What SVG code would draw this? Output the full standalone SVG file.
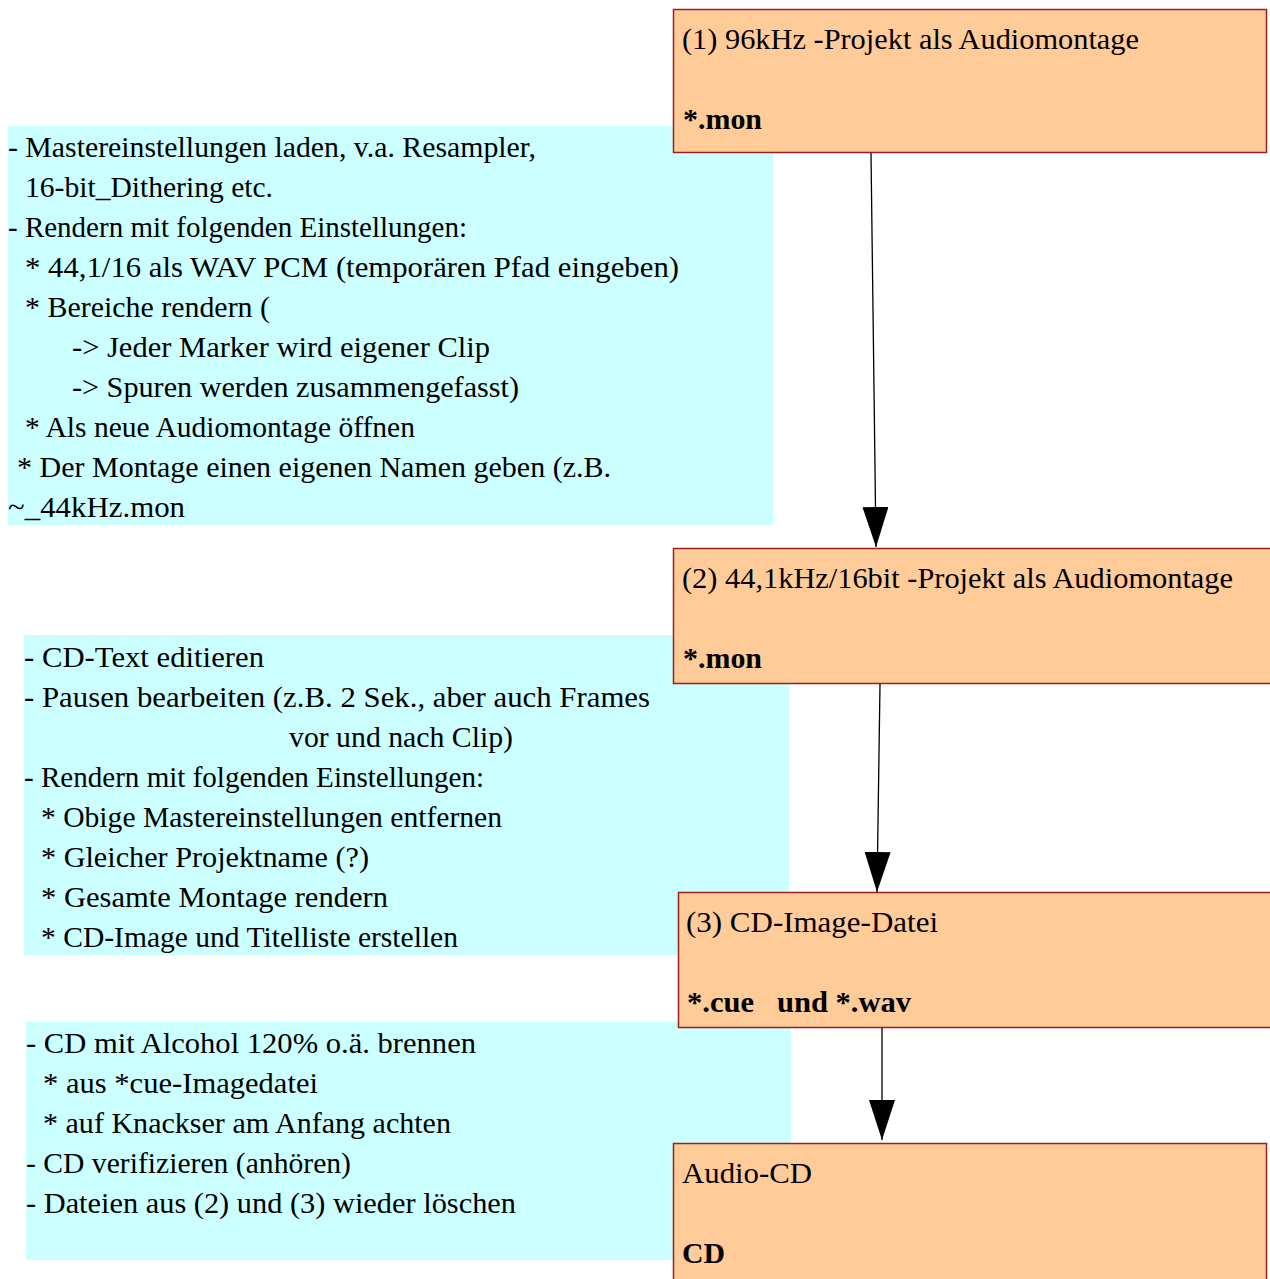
<svg xmlns="http://www.w3.org/2000/svg" width="1270" height="1279" viewBox="0 0 1270 1279" font-family="Liberation Serif" font-size="29">
<style>
text{fill:#000}
.b{font-weight:bold}
.note{fill:#CCFFFF}
.node{fill:#FFCC99;stroke:#9A1F1F;stroke-width:1.5}
.conn{stroke:#000;stroke-width:1.3;fill:none;marker-end:url(#ah)}
</style>
<defs>
<marker id="ah" markerUnits="userSpaceOnUse" markerWidth="40" markerHeight="26" refX="40" refY="13" orient="auto">
<path d="M0,0 L40,13 L0,26 Z" fill="#000"/>
</marker>
</defs>
<rect width="1270" height="1279" fill="#fff"/>
<g id="note1">
<rect class="note" x="8" y="126" width="765" height="399"/>
<text x="8" y="157" textLength="528" lengthAdjust="spacingAndGlyphs">- Mastereinstellungen laden, v.a. Resampler,</text>
<text x="25" y="197" textLength="248" lengthAdjust="spacingAndGlyphs">16-bit_Dithering etc.</text>
<text x="8" y="237" textLength="459" lengthAdjust="spacingAndGlyphs">- Rendern mit folgenden Einstellungen:</text>
<text x="25" y="277" textLength="654" lengthAdjust="spacingAndGlyphs">* 44,1/16 als WAV PCM (temporären Pfad eingeben)</text>
<text x="25" y="317" textLength="245" lengthAdjust="spacingAndGlyphs">* Bereiche rendern (</text>
<text x="72" y="357" textLength="418" lengthAdjust="spacingAndGlyphs">-&gt; Jeder Marker wird eigener Clip</text>
<text x="72" y="397" textLength="447" lengthAdjust="spacingAndGlyphs">-&gt; Spuren werden zusammengefasst)</text>
<text x="25" y="437" textLength="390" lengthAdjust="spacingAndGlyphs">* Als neue Audiomontage öffnen</text>
<text x="17" y="477" textLength="594" lengthAdjust="spacingAndGlyphs">* Der Montage einen eigenen Namen geben (z.B.</text>
<text x="8" y="517" textLength="177" lengthAdjust="spacingAndGlyphs">~_44kHz.mon</text>
</g>
<g id="note2">
<rect class="note" x="24" y="635" width="765" height="320"/>
<text x="24" y="667" textLength="240" lengthAdjust="spacingAndGlyphs">- CD-Text editieren</text>
<text x="24" y="707" textLength="626" lengthAdjust="spacingAndGlyphs">- Pausen bearbeiten (z.B. 2 Sek., aber auch Frames</text>
<text x="289" y="747" textLength="224" lengthAdjust="spacingAndGlyphs">vor und nach Clip)</text>
<text x="24" y="787" textLength="460" lengthAdjust="spacingAndGlyphs">- Rendern mit folgenden Einstellungen:</text>
<text x="41" y="827" textLength="461" lengthAdjust="spacingAndGlyphs">* Obige Mastereinstellungen entfernen</text>
<text x="41" y="867" textLength="328" lengthAdjust="spacingAndGlyphs">* Gleicher Projektname (?)</text>
<text x="41" y="907" textLength="347" lengthAdjust="spacingAndGlyphs">* Gesamte Montage rendern</text>
<text x="41" y="947" textLength="417" lengthAdjust="spacingAndGlyphs">* CD-Image und Titelliste erstellen</text>
</g>
<g id="note3">
<rect class="note" x="26" y="1022" width="765" height="238"/>
<text x="26" y="1053" textLength="450" lengthAdjust="spacingAndGlyphs">- CD mit Alcohol 120% o.ä. brennen</text>
<text x="43" y="1093" textLength="275" lengthAdjust="spacingAndGlyphs">* aus *cue-Imagedatei</text>
<text x="43" y="1133" textLength="408" lengthAdjust="spacingAndGlyphs">* auf Knackser am Anfang achten</text>
<text x="26" y="1173" textLength="325" lengthAdjust="spacingAndGlyphs">- CD verifizieren (anhören)</text>
<text x="26" y="1213" textLength="490" lengthAdjust="spacingAndGlyphs">- Dateien aus (2) und (3) wieder löschen</text>
</g>
<g id="node1">
<rect class="node" x="673.5" y="9.5" width="593" height="143"/>
<text x="682" y="49" textLength="457" lengthAdjust="spacingAndGlyphs">(1) 96kHz -Projekt als Audiomontage</text>
<text class="b" x="683" y="129" textLength="79" lengthAdjust="spacingAndGlyphs">*.mon</text>
</g>
<g id="node2">
<rect class="node" x="673.5" y="548.5" width="600" height="135"/>
<text x="682" y="588" textLength="551" lengthAdjust="spacingAndGlyphs">(2) 44,1kHz/16bit -Projekt als Audiomontage</text>
<text class="b" x="683" y="668" textLength="79" lengthAdjust="spacingAndGlyphs">*.mon</text>
</g>
<g id="node3">
<rect class="node" x="678.5" y="892.5" width="595" height="135"/>
<text x="686" y="932" textLength="252" lengthAdjust="spacingAndGlyphs">(3) CD-Image-Datei</text>
<text class="b" x="687" y="1012" textLength="224" lengthAdjust="spacingAndGlyphs" xml:space="preserve">*.cue   und *.wav</text>
</g>
<g id="node4">
<rect class="node" x="673.5" y="1143.5" width="593" height="145"/>
<text x="682" y="1183" textLength="130" lengthAdjust="spacingAndGlyphs">Audio-CD</text>
<text class="b" x="682" y="1263" textLength="43" lengthAdjust="spacingAndGlyphs">CD</text>
</g>
<g id="connectors">
<line class="conn" x1="871" y1="153" x2="876" y2="547"/>
<line class="conn" x1="880" y1="684" x2="877" y2="892"/>
<line class="conn" x1="882" y1="1028" x2="882" y2="1140"/>
</g>
</svg>
